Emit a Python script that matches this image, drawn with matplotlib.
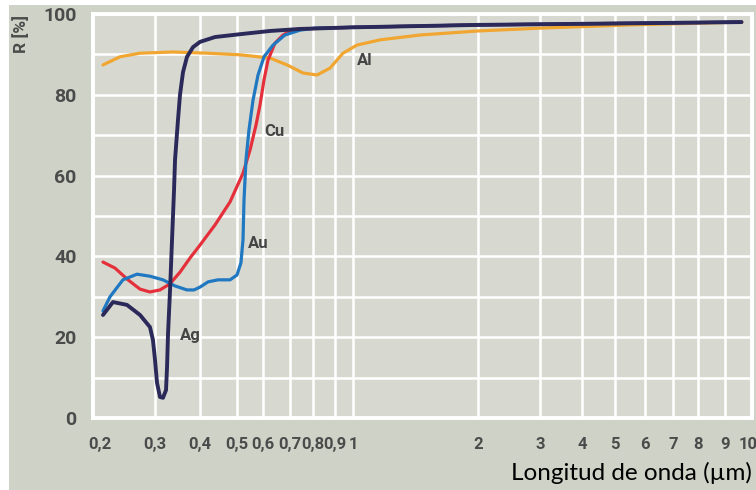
import numpy as np
import matplotlib
matplotlib.use("Agg")
import matplotlib.pyplot as plt
from matplotlib.patches import Rectangle
from matplotlib.transforms import ScaledTranslation

# ---- data -------------------------------------------------------------
tick_values = [0.2, 0.3, 0.4, 0.5, 0.6, 0.7, 0.8, 0.9, 1, 2, 3, 4, 5, 6, 7, 8, 9, 10]
tick_labels = ["0,2", "0,3", "0,4", "0,5", "0,6", "0,7", "0,8", "0,9", "1",
               "2", "3", "4", "5", "6", "7", "8", "9", "10"]
y_ticks = [0, 20, 40, 60, 80, 100]

# wavelength (µm) / reflectance (%)
ag_wl = [0.2135, 0.2279, 0.2497, 0.2720, 0.2903, 0.2960, 0.300, 0.3039, 0.3097,
         0.3157, 0.3219, 0.3240, 0.3261, 0.3303, 0.3345, 0.3388, 0.3410, 0.3475,
         0.3520, 0.3588, 0.3681, 0.3825, 0.400, 0.438, 0.5105, 0.6245, 0.742,
         1.0, 2.0, 5.5, 9.6]
ag_r = [25.5, 28.7, 28.0, 25.5, 22.5, 19.3, 14.4, 8.7, 5.2,
        5.0, 6.9, 12.6, 21.0, 31.7, 44.1, 56.4, 63.9, 73.8,
        80.0, 85.6, 89.4, 91.8, 93.1, 94.3, 95.0, 95.8, 96.3,
        96.7, 97.3, 97.7, 98.0]

cu_wl = [0.2135, 0.231, 0.2514, 0.272, 0.290, 0.3097, 0.330, 0.352, 0.3752, 0.400,
         0.438, 0.4795, 0.5215, 0.5477, 0.5713, 0.5876, 0.6035, 0.6175, 0.6425,
         0.6726, 0.708, 0.742, 1.0, 2.0, 5.5, 9.6]
cu_r = [38.6, 37.1, 34.2, 31.9, 31.2, 31.7, 33.2, 36.1, 39.6, 42.8,
        47.8, 53.5, 60.6, 66.3, 72.5, 77.5, 83.7, 88.6, 92.8,
        94.8, 96.0, 96.3, 96.7, 97.3, 97.7, 98.0]

au_wl = [0.2135, 0.2235, 0.2432, 0.2667, 0.290, 0.3157, 0.3407, 0.368, 0.385, 0.400,
         0.420, 0.446, 0.4795, 0.500, 0.514, 0.5215, 0.5252, 0.5325, 0.5438, 0.5595,
         0.5794, 0.6035, 0.6353, 0.680, 0.742, 0.809, 1.0, 2.0, 5.5, 9.6]
au_r = [26.5, 30.0, 34.2, 35.6, 35.1, 34.2, 32.7, 31.7, 31.7, 32.4,
        33.7, 34.2, 34.2, 35.4, 38.4, 44.1, 54.0, 63.9, 71.3, 78.7,
        84.9, 89.4, 92.3, 94.8, 96.0, 96.5, 96.7, 97.3, 97.7, 98.0]

al_wl = [0.2135, 0.2385, 0.272, 0.3365, 0.4173, 0.5105, 0.6245, 0.688, 0.7549,
         0.8173, 0.8763, 0.943, 1.022, 1.162, 1.45, 2.0, 3.0, 5.48, 9.61]
al_r = [87.4, 89.4, 90.3, 90.6, 90.3, 89.9, 89.1, 87.4, 85.4,
        84.9, 86.6, 90.3, 92.3, 93.6, 94.8, 95.8, 96.5, 97.3, 98.0]

# ---- hand-drawn logarithmic axis --------------------------------------
# relative position of every decade subdivision along the x axis
grid_pos = np.array([0, 62, 107, 144, 170, 197, 220, 242, 260,
                     385, 447, 489, 522, 552, 580, 605, 632, 659]) / 659.0
log_ticks = np.log10(tick_values)


def fwd(x):
    x = np.asarray(x, dtype=float)
    return np.interp(np.log10(np.clip(x, 1e-9, None)), log_ticks, grid_pos)


def inv(p):
    p = np.asarray(p, dtype=float)
    return 10 ** np.interp(p, grid_pos, log_ticks)


# ---- figure -----------------------------------------------------------
W, H = 756, 490
fig = plt.figure(figsize=(W / 100, H / 100), dpi=100, facecolor="white")
fig.add_artist(Rectangle((9 / W, 0), 1 - 9 / W, 1 - 5 / H, transform=fig.transFigure,
                         facecolor="#cfd2c7", edgecolor="none", zorder=-10))

ax = fig.add_axes([93 / W, 1 - 418 / H, (752 - 93) / W, (418 - 14) / H])
ax.set_facecolor("#d7d9d1")
ax.set_xscale("function", functions=(fwd, inv))
ax.set_xlim(0.2, 10)
ax.set_ylim(0, 100)

lab_color = "#4b4b4b"
lab_font = dict(family=["Roboto", "DejaVu Sans"], weight="bold", color=lab_color)

ax.set_xticks(tick_values)
ax.set_xticklabels(tick_labels, fontsize=12, **lab_font)
ax.set_yticks(y_ticks)
ax.set_yticks([10, 30, 50, 70, 90], minor=True)
ax.set_yticklabels([str(v) for v in y_ticks], fontsize=14, **lab_font)
ax.xaxis.set_minor_locator(matplotlib.ticker.NullLocator())
ax.tick_params(axis="both", which="both", length=0)
ax.tick_params(axis="x", pad=14)
ax.tick_params(axis="y", pad=12)
xl = ax.get_xticklabels()
xl[0].set_transform(xl[0].get_transform() + ScaledTranslation(7 / 100, 0, fig.dpi_scale_trans))
xl[-1].set_transform(xl[-1].get_transform() + ScaledTranslation(-4 / 100, 0, fig.dpi_scale_trans))
ax.grid(which="both", color="white", lw=1.8, zorder=0)
ax.set_axisbelow(True)
for s in ax.spines.values():
    s.set_color("white")
    s.set_linewidth(2.8)

ax.plot(al_wl, al_r, color="#f0a630", lw=2.3, solid_capstyle="round", zorder=2)
ax.plot(cu_wl, cu_r, color="#e5303b", lw=2.3, solid_capstyle="round", zorder=3)
ax.plot(au_wl, au_r, color="#1f78c1", lw=2.3, solid_capstyle="round", zorder=4)
ax.plot(ag_wl, ag_r, color="#2b2959", lw=2.8, solid_capstyle="round", zorder=5)

for name, x, y in [("Ag", 0.375, 20.5), ("Au", 0.579, 43.3),
                   ("Cu", 0.639, 71.0), ("Al", 1.069, 88.6)]:
    ax.text(x, y, name, fontsize=12, ha="center", va="center", zorder=6,
            family=["Roboto", "DejaVu Sans"], weight="bold", color="#444444")

fig.text(21 / W, 1 - 34 / H, "R [%]", rotation=90, fontsize=12.5, ha="center", va="center",
         **lab_font)
fig.text(752 / W, 1 - 480 / H, "Longitud de onda (µm)", family=["Lato", "DejaVu Sans"],
         fontsize=17.5, color="black", ha="right", va="baseline")

fig.savefig("out.png", dpi=100)
